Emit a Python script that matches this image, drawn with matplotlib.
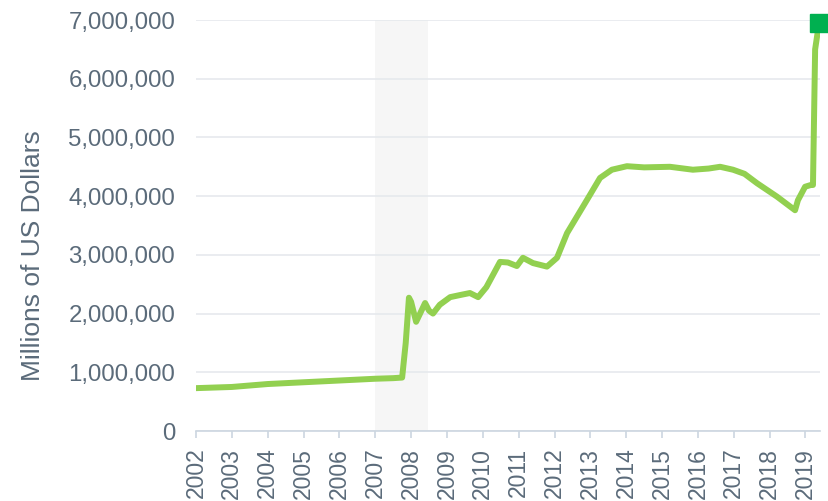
import matplotlib
matplotlib.use("Agg")
import matplotlib.pyplot as plt
from matplotlib.ticker import FuncFormatter

years = [2002.0, 2003.0, 2004.0, 2005.0, 2006.0, 2007.0, 2007.5, 2007.75, 2007.85,
         2007.94, 2008.0, 2008.14, 2008.25, 2008.39, 2008.5, 2008.61, 2008.8, 2009.09,
         2009.4, 2009.64, 2009.87, 2010.1, 2010.48, 2010.7, 2010.95, 2011.12, 2011.40,
         2011.79, 2012.07, 2012.35, 2012.91, 2013.27, 2013.6, 2014.02, 2014.5, 2015.22,
         2015.86, 2016.3, 2016.62, 2016.98, 2017.3, 2017.65, 2018.21, 2018.71, 2018.79,
         2018.99, 2019.15, 2019.21, 2019.27, 2019.38]
assets = [730000, 750000, 800000, 830000, 860000, 890000, 900000, 910000, 1500000,
          2270000, 2200000, 1860000, 2000000, 2180000, 2050000, 2000000, 2150000, 2280000,
          2320000, 2350000, 2280000, 2450000, 2880000, 2870000, 2810000, 2950000, 2860000,
          2800000, 2950000, 3370000, 3940000, 4310000, 4450000, 4510000, 4490000, 4500000,
          4450000, 4470000, 4500000, 4450000, 4380000, 4220000, 3990000, 3760000, 3930000,
          4160000, 4190000, 4190000, 6500000, 6950000]
recession = (2006.99, 2008.47)
year_ticks = list(range(2002, 2020))

text_color = "#5b6b7a"
plt.rcParams["font.family"] = ["Liberation Sans", "DejaVu Sans"]

fig = plt.figure(figsize=(8.29, 5.01), dpi=100)
ax = fig.add_axes([196 / 829, 1 - 431 / 501, (820 - 196) / 829, (431 - 20) / 501])

ax.axvspan(recession[0], recession[1], color="#f6f6f6", zorder=0, lw=0)
ax.plot(years, assets, color="#92d050", lw=4.3, solid_capstyle="round",
        solid_joinstyle="round", zorder=3)
ax.plot([years[-1]], [assets[-1]], marker="s", ms=13, color="#00b050",
        clip_on=False, zorder=4, lw=0)

ax.set_xlim(2002, 2002 + (820 - 196) / 35.85)
ax.set_ylim(0, 7000000)
ax.set_yticks(range(0, 7000001, 1000000))
ax.yaxis.set_major_formatter(FuncFormatter(lambda v, p: f"{int(v):,}"))
ax.set_xticks(year_ticks)
ax.set_xticklabels([str(y) for y in year_ticks], rotation=90)

ax.grid(axis="y", color="#e6e9ed", lw=1.2)
ax.set_axisbelow(True)
for s in ["top", "right", "left"]:
    ax.spines[s].set_visible(False)
ax.spines["bottom"].set_color("#ccd6e0")
ax.spines["bottom"].set_linewidth(1.2)

ax.tick_params(axis="y", length=0, pad=15, labelsize=17.3, labelcolor=text_color)
ax.tick_params(axis="x", length=5, width=1.2, color="#ccd6e0", pad=7,
               labelsize=16.5, labelcolor=text_color)
for lbl in ax.get_xticklabels():
    lbl.set_verticalalignment("top")

fig.text(33 / 829, 1 - 256 / 501, "Millions of US Dollars", rotation=90,
         ha="center", va="center", fontsize=19, color=text_color)

fig.savefig("out.png", dpi=100)
